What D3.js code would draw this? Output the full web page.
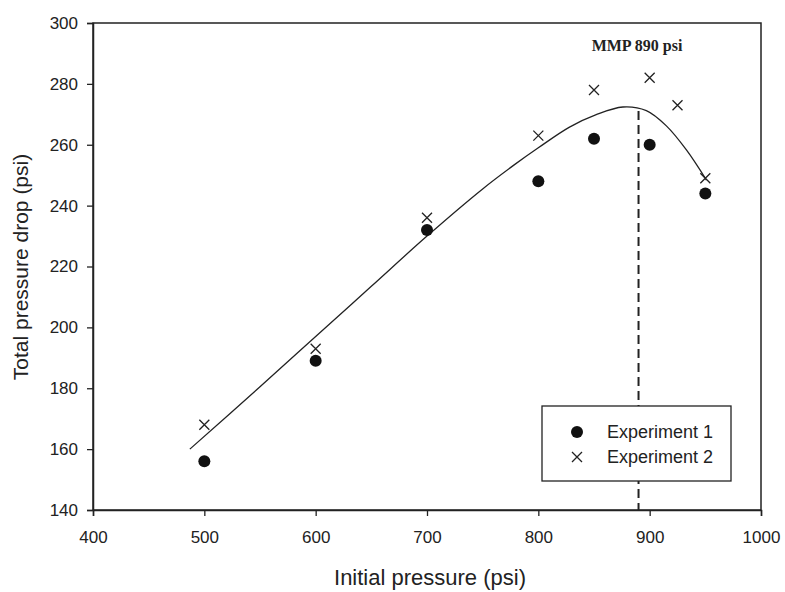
<!DOCTYPE html>
<html>
<head>
<meta charset="utf-8">
<script src="https://cdn.jsdelivr.net/npm/d3@7"></script>
<style>
  body { margin: 0; background: #fff; }
  svg { display: block; }
  text { font-family: "Liberation Sans", Arial, sans-serif; fill: #222; }
</style>
</head>
<body>
<svg id="chart" width="785" height="592"></svg>
<script>
// Experiment 1 (filled circles)
const exp1X = [500, 600, 700, 800, 850, 900, 950];
const exp1Y = [156, 189, 232, 248, 262, 260, 244];
// Experiment 2 (crosses)
const exp2X = [500, 600, 700, 800, 850, 900, 925, 950];
const exp2Y = [168, 193, 236, 263, 278, 282, 273, 249];
// Smoothed trend curve through both experiments
const fitX = [487, 550, 600, 650, 700, 750, 778, 800, 828, 852, 876, 897, 915, 933, 951];
const fitY = [160, 180.5, 197, 213.5, 230, 245.5, 253.3, 259, 265.8, 269.9, 272.4, 271.2, 266.2, 258.3, 248.4];
// Minimum miscibility pressure marker
const mmpValue = 890;
const mmpLabel = "MMP 890 psi";
// Axis ticks
const xTicks = [400, 500, 600, 700, 800, 900, 1000];
const yTicks = [140, 160, 180, 200, 220, 240, 260, 280, 300];
const seriesNames = ["Experiment 1", "Experiment 2"];

const svg = d3.select("#chart");
const plotL = 93, plotR = 761, plotT = 23, plotB = 510;

const x = d3.scaleLinear().domain([400, 1000]).range([plotL, plotR]);
const y = d3.scaleLinear().domain([140, 300]).range([plotB, plotT]);

const ink = "#222";

// frame
svg.append("rect")
  .attr("x", plotL).attr("y", plotT)
  .attr("width", plotR - plotL).attr("height", plotB - plotT)
  .attr("fill", "none").attr("stroke", ink).attr("stroke-width", 1.5);

// axes
const xAxis = svg.append("g").attr("transform", `translate(0,${plotB})`)
  .call(d3.axisBottom(x).tickValues(xTicks).tickSize(6).tickPadding(15).tickFormat(d3.format("d")));
const yAxis = svg.append("g").attr("transform", `translate(${plotL},0)`)
  .call(d3.axisLeft(y).tickValues(yTicks).tickSize(6).tickPadding(9).tickFormat(d3.format("d")));
[xAxis, yAxis].forEach(g => {
  g.select(".domain").attr("stroke", ink).attr("stroke-width", 1.5);
  g.selectAll(".tick line").attr("stroke", ink).attr("stroke-width", 1.3);
  g.selectAll(".tick text")
    .style("font-family", '"Liberation Sans", Arial, sans-serif')
    .style("font-size", "17px").style("fill", ink);
});

// axis titles
svg.append("text")
  .attr("x", 430).attr("y", 585)
  .attr("text-anchor", "middle").style("font-size", "22px")
  .text("Initial pressure (psi)");
svg.append("text")
  .attr("transform", "translate(28,267) rotate(-90)")
  .attr("text-anchor", "middle").style("font-size", "21px")
  .text("Total pressure drop (psi)");

// trend curve
const line = d3.line()
  .x((d, i) => x(fitX[i]))
  .y(d => y(d))
  .curve(d3.curveCatmullRom.alpha(0.5));
svg.append("path")
  .attr("d", line(fitY))
  .attr("fill", "none").attr("stroke", ink).attr("stroke-width", 1.3);

// MMP dashed line
const peakY = d3.max(fitY);
svg.append("line")
  .attr("x1", x(mmpValue)).attr("x2", x(mmpValue))
  .attr("y1", y(peakY) + 4).attr("y2", plotB)
  .attr("stroke", ink).attr("stroke-width", 2)
  .attr("stroke-dasharray", "9,5");
svg.append("text")
  .attr("x", 637).attr("y", 51)
  .attr("text-anchor", "middle")
  .style("font-family", '"Liberation Serif", "Times New Roman", serif')
  .style("font-weight", "bold").style("font-size", "16px")
  .text(mmpLabel);

// markers
function cross(g, cx, cy, s) {
  g.append("path")
    .attr("d", `M${cx - s},${cy - s}L${cx + s},${cy + s}M${cx - s},${cy + s}L${cx + s},${cy - s}`)
    .attr("stroke", ink).attr("stroke-width", 1.3).attr("fill", "none");
}
const pts1 = svg.append("g");
exp1X.forEach((v, i) => {
  pts1.append("circle").attr("cx", x(v)).attr("cy", y(exp1Y[i])).attr("r", 6).attr("fill", "#111");
});
const pts2 = svg.append("g");
exp2X.forEach((v, i) => cross(pts2, x(v), y(exp2Y[i]), 5));

// legend
const lg = svg.append("g");
lg.append("rect")
  .attr("x", 542).attr("y", 406).attr("width", 189).attr("height", 75)
  .attr("fill", "#fff").attr("stroke", ink).attr("stroke-width", 1.3);
lg.append("circle").attr("cx", 577).attr("cy", 432).attr("r", 6).attr("fill", "#111");
cross(lg, 577, 457, 5);
seriesNames.forEach((n, i) => {
  lg.append("text").attr("x", 607).attr("y", 438 + i * 25)
    .style("font-size", "18px").text(n);
});
</script>
</body>
</html>
